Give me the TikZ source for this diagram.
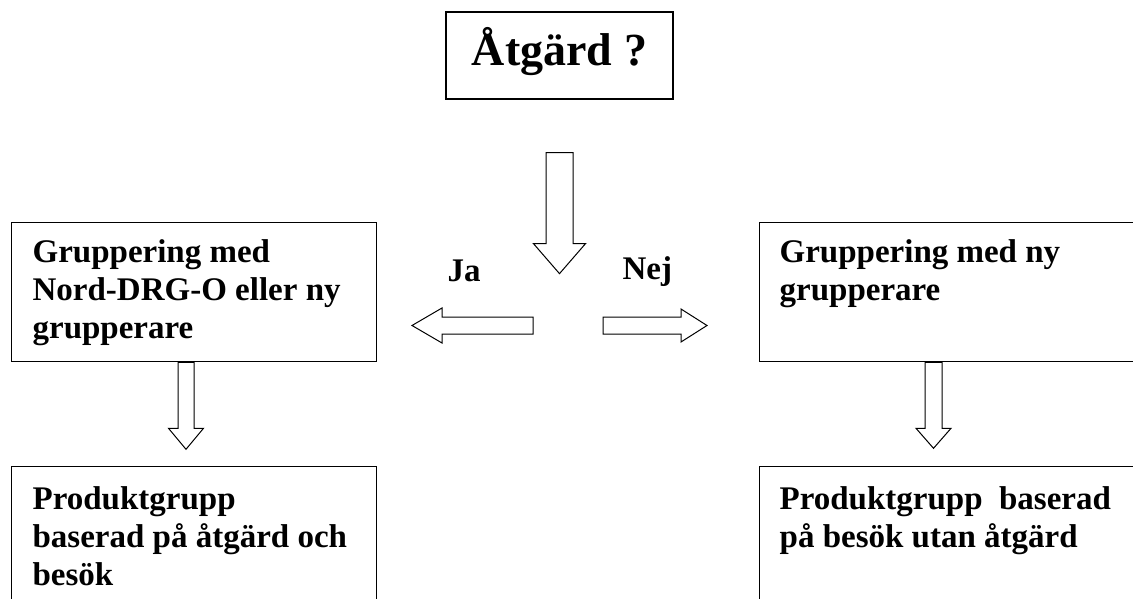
\documentclass[tikz,border=0pt]{standalone}
\usepackage{fontspec}
\setmainfont{Liberation Serif}
\usetikzlibrary{positioning,calc}

\tikzset{
  pics/blockarrow/.style n args={4}{code={
    \draw[blk] (-#1,0) -- (-#1,-#3) -- (-#2,-#3) -- (0,-#3-#4) -- (#2,-#3) -- (#1,-#3) -- (#1,0) -- cycle;
  }}
}

\begin{document}
\begin{tikzpicture}[x=1pt,y=1pt,line width=1.3pt,
box/.style={draw,anchor=north west,inner sep=0pt},
txt/.style={anchor=north west,inner sep=0pt,align=left,font=\bfseries\fontsize{33}{38}\selectfont},
lbl/.style={anchor=base west,inner sep=0pt,font=\bfseries\fontsize{33}{38}\selectfont},
blk/.style={draw,fill=white,line width=1pt,line join=miter}]
\useasboundingbox (0,0) rectangle (1133,-599);
\clip (0,0) rectangle (1133,-599);

% question
\node[draw,minimum width=227,minimum height=87,text height=40pt,text depth=20pt,
  font=\bfseries\fontsize{46}{52}\selectfont] (q) at (559.5,-55.5) {Åtgärd ?};

% boxes
\node[box,minimum width=365,minimum height=139] (g1) at (11,-222) {};
\node[box,minimum width=420,minimum height=139] (g2) at (759,-222) {};
\node[box,minimum width=365,minimum height=220] (p1) at (11,-466) {};
\node[box,minimum width=420,minimum height=220] (p2) at (759,-466) {};

\node[txt] (t1) at ($(g1.north west)+(21,-17)$) {Gruppering med\\Nord-DRG-O eller ny\\grupperare};
\node[txt] (t2) at ($(g2.north west)+(20,-17)$) {Gruppering med ny\\grupperare};
\node[txt] (t3) at ($(p1.north west)+(21,-20)$) {Produktgrupp\\baserad på åtgärd och\\besök};
\node[txt] (t4) at ($(p2.north west)+(20,-20)$) {Produktgrupp\ \ baserad\\på besök utan åtgärd};

\node[lbl] (ja) at (447,-281) {Ja};
\node[lbl] (nej) at (622,-279) {Nej};

% block arrows
\pic at ($(q.south)+(0,-53)$) {blockarrow={13.5}{26}{91}{30}};
\pic[rotate=-90] at (533,-325.5) {blockarrow={8.5}{17.5}{91}{30}};
\pic[rotate=90] at (603,-325.5) {blockarrow={8.5}{16.5}{78}{26}};
\pic at ($(g1.south west)+(175,0)$) {blockarrow={8}{17.5}{66}{21}};
\pic at ($(g2.south west)+(174.5,0)$) {blockarrow={8.5}{17.5}{66}{20}};
\end{tikzpicture}
\end{document}
